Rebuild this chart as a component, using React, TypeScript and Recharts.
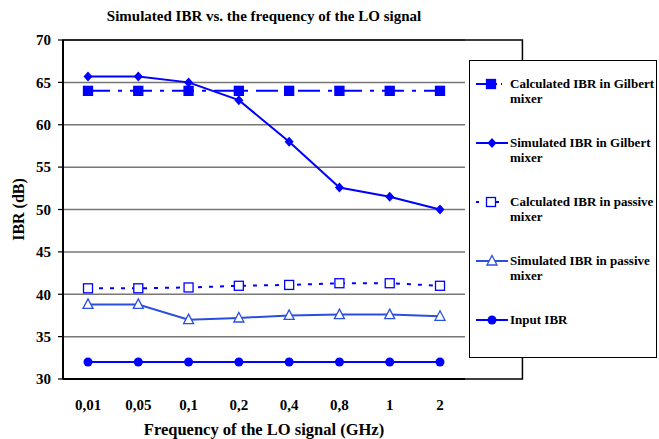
import * as React from "react"
import {
  ComposedChart,
  Line,
  XAxis,
  YAxis,
  CartesianGrid,
  ReferenceArea,
} from "recharts"

const frequencies = ["0,01", "0,05", "0,1", "0,2", "0,4", "0,8", "1", "2"]
const calcGilbert = [64, 64, 64, 64, 64, 64, 64, 64]
const simGilbert = [65.7, 65.7, 65.0, 62.9, 58.0, 52.6, 51.5, 50.0]
const calcPassive = [40.7, 40.7, 40.8, 41.0, 41.1, 41.3, 41.3, 41.0]
const simPassive = [38.8, 38.8, 37.0, 37.2, 37.5, 37.6, 37.6, 37.4]
const inputIBR = [32, 32, 32, 32, 32, 32, 32, 32]
const yTicks = [30, 35, 40, 45, 50, 55, 60, 65, 70]

const data = frequencies.map((f, i) => ({
  f,
  calcGilbert: calcGilbert[i],
  simGilbert: simGilbert[i],
  calcPassive: calcPassive[i],
  simPassive: simPassive[i],
  input: inputIBR[i],
}))

const BLUE = "#0000ff"
const BLUE2 = "#2a4fe0"
const FONT = "Liberation Serif"
const textStyle = { fill: "#000", fontSize: 15, fontWeight: "bold", fontFamily: FONT }

const Square = ({ cx, cy, filled }: any) => (
  <rect
    x={cx - 4.5}
    y={cy - 4.5}
    width={9}
    height={9}
    fill={filled ? BLUE : "#fff"}
    stroke={BLUE}
    strokeWidth={1.3}
  />
)
const Diamond = ({ cx, cy }: any) => (
  <path d={`M${cx},${cy - 5}L${cx + 4.5},${cy}L${cx},${cy + 5}L${cx - 4.5},${cy}Z`} fill={BLUE} />
)
const Triangle = ({ cx, cy }: any) => (
  <path
    d={`M${cx},${cy - 5.5}L${cx + 5},${cy + 4}L${cx - 5},${cy + 4}Z`}
    fill="#fff"
    stroke={BLUE2}
    strokeWidth={1.3}
  />
)
const Circle = ({ cx, cy }: any) => <circle cx={cx} cy={cy} r={4.5} fill={BLUE} />

const legendItems = [
  { label: ["Calculated IBR in Gilbert", "mixer"], kind: "calcG" },
  { label: ["Simulated IBR in Gilbert", "mixer"], kind: "simG" },
  { label: ["Calculated IBR in passive", "mixer"], kind: "calcP" },
  { label: ["Simulated IBR in passive", "mixer"], kind: "simP" },
  { label: ["Input IBR"], kind: "input" },
]

function LegendIcon({ kind }: { kind: string }) {
  const y = 8
  return (
    <svg width={32} height={16} style={{ display: "block", flexShrink: 0 }}>
      {kind === "calcG" && (
        <>
          <line x1={0} y1={y} x2={26} y2={y} stroke={BLUE} strokeWidth={2} strokeDasharray="14 4 3 4" />
          <Square cx={15} cy={y} filled />
        </>
      )}
      {kind === "simG" && (
        <>
          <line x1={0} y1={y} x2={32} y2={y} stroke={BLUE} strokeWidth={2} />
          <Diamond cx={16} cy={y} />
        </>
      )}
      {kind === "calcP" && (
        <>
          <line x1={0} y1={y} x2={30} y2={y} stroke={BLUE} strokeWidth={2} strokeDasharray="3 7" />
          <Square cx={15} cy={y} />
        </>
      )}
      {kind === "simP" && (
        <>
          <line x1={0} y1={y} x2={32} y2={y} stroke={BLUE2} strokeWidth={2} />
          <Triangle cx={16} cy={y} />
        </>
      )}
      {kind === "input" && (
        <>
          <line x1={0} y1={y} x2={32} y2={y} stroke={BLUE} strokeWidth={2} />
          <Circle cx={16} cy={y} />
        </>
      )}
    </svg>
  )
}

function LegendBox() {
  return (
    <div
      style={{
        position: "absolute",
        left: 469,
        top: 60,
        width: 188,
        height: 298,
        border: "1.5px solid #000",
        boxSizing: "border-box",
        background: "#fff",
        fontFamily: FONT,
        fontWeight: "bold",
        fontSize: 13,
        color: "#000",
        padding: "15px 0 0 6px",
        whiteSpace: "nowrap",
      }}
    >
      {legendItems.map((it) => (
        <div key={it.kind} style={{ display: "flex", alignItems: "flex-start", height: 59 }}>
          <LegendIcon kind={it.kind} />
          <div style={{ lineHeight: "15px", marginTop: 0, marginLeft: 2 }}>
            {it.label.map((l) => (
              <div key={l}>{l}</div>
            ))}
          </div>
        </div>
      ))}
    </div>
  )
}

export default function App() {
  return (
    <div style={{ position: "absolute", left: 0, top: 0, width: 659, height: 439, background: "#fff" }}>
      <div
        style={{
          position: "absolute",
          left: 63,
          width: 402,
          top: 8,
          textAlign: "center",
          fontFamily: FONT,
          fontWeight: "bold",
          fontSize: 15,
        }}
      >
        Simulated IBR vs. the frequency of the LO signal
      </div>
      <ComposedChart
        width={659}
        height={439}
        data={data}
        margin={{ top: 40, right: 194, bottom: 0, left: 0 }}
      >
        <CartesianGrid vertical={false} stroke="#777" strokeWidth={1.5} />
        <XAxis
          dataKey="f"
          xAxisId="a"
          height={60}
          interval={0}
          padding={{ left: 25, right: 25 }}
          tickLine={false}
          axisLine={{ stroke: "#000", strokeWidth: 2 }}
          tick={textStyle}
          tickMargin={14}
          label={{
            value: "Frequency of the LO signal (GHz)",
            position: "insideBottom",
            offset: 4,
            ...textStyle,
            fontSize: 16.5,
          }}
        />
        <XAxis
          xAxisId="b"
          type="number"
          domain={[0, 8]}
          ticks={[0, 1, 2, 3, 4, 5, 6, 7, 8]}
          height={0}
          axisLine={false}
          tick={false}
          tickSize={5}
          tickLine={{ stroke: "#000", strokeWidth: 1.2 }}
        />
        <YAxis
          domain={[30, 70]}
          ticks={yTicks}
          width={63}
          tickSize={5}
          tickMargin={7}
          axisLine={{ stroke: "#000", strokeWidth: 2 }}
          tickLine={{ stroke: "#000", strokeWidth: 1.2 }}
          tick={textStyle}
          label={{
            value: "IBR (dB)",
            angle: -90,
            position: "center",
            dx: -13,
            ...textStyle,
            fontSize: 16,
          }}
        />
        <ReferenceArea
          xAxisId="b"
          x1={0}
          x2={8}
          y1={30}
          y2={70}
          fill="none"
          stroke="#000"
          strokeWidth={1.5}
          ifOverflow="visible"
        />
        <Line
          xAxisId="a"
          dataKey="calcGilbert"
          stroke={BLUE}
          strokeWidth={2}
          strokeDasharray="22 8 4 8"
          dot={(p: any) => <Square key={p.index} cx={p.cx} cy={p.cy} filled />}
          isAnimationActive={false}
        />
        <Line
          xAxisId="a"
          dataKey="simGilbert"
          stroke={BLUE}
          strokeWidth={2}
          dot={(p: any) => <Diamond key={p.index} cx={p.cx} cy={p.cy} />}
          isAnimationActive={false}
        />
        <Line
          xAxisId="a"
          dataKey="calcPassive"
          stroke={BLUE}
          strokeWidth={2}
          strokeDasharray="4 7"
          dot={(p: any) => <Square key={p.index} cx={p.cx} cy={p.cy} />}
          isAnimationActive={false}
        />
        <Line
          xAxisId="a"
          dataKey="simPassive"
          stroke={BLUE2}
          strokeWidth={2}
          dot={(p: any) => <Triangle key={p.index} cx={p.cx} cy={p.cy} />}
          isAnimationActive={false}
        />
        <Line
          xAxisId="a"
          dataKey="input"
          stroke={BLUE}
          strokeWidth={2}
          dot={(p: any) => <Circle key={p.index} cx={p.cx} cy={p.cy} />}
          isAnimationActive={false}
        />
      </ComposedChart>
      <LegendBox />
    </div>
  )
}
